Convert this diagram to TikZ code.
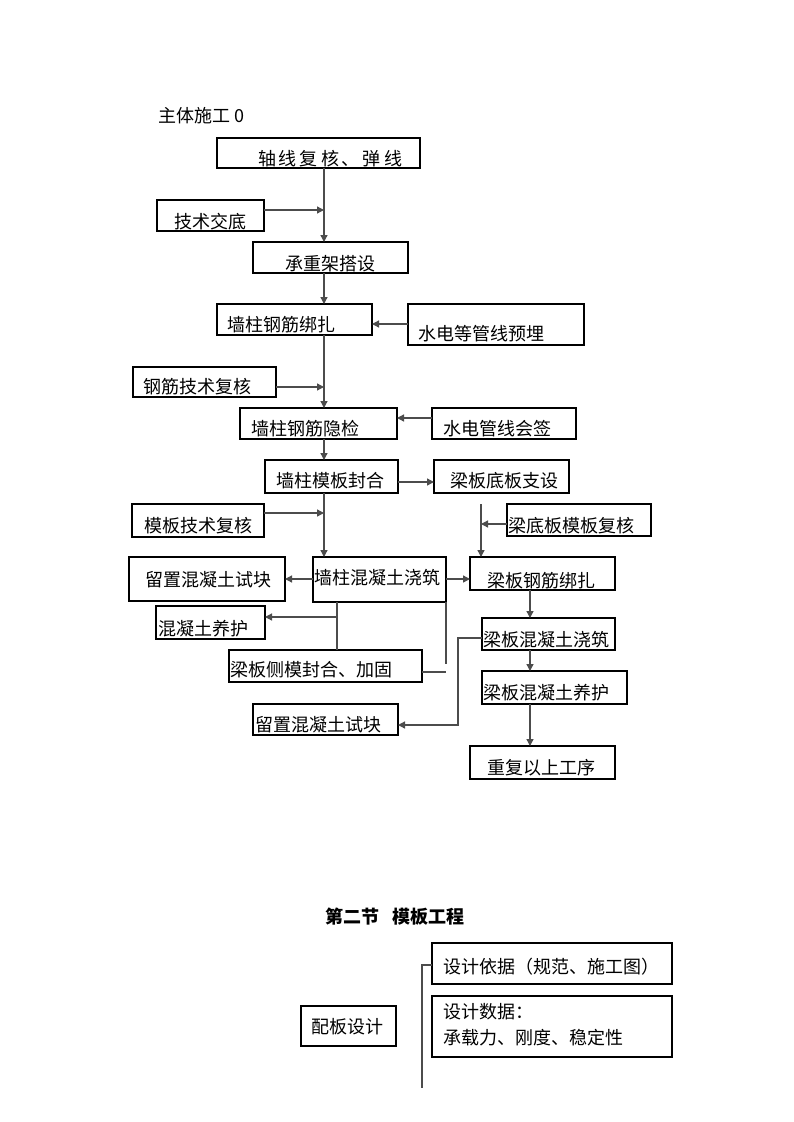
\documentclass[tikz,border=0pt]{standalone}
\usepackage{fontspec}
\setmainfont{Noto Sans CJK SC}
\usetikzlibrary{arrows.meta}
\tikzset{
  box/.style={draw=black, line width=1.1pt, inner sep=0pt, outer sep=0pt, rectangle},
  txt/.style={inner sep=0pt, outer sep=0pt, anchor=west, font=\fontsize{18pt}{20pt}\selectfont},
  conn/.style={draw=black!70, line width=1.3pt},
  arr/.style={conn, -{Triangle[length=7pt,width=7pt]}},
}
\newcommand\bx[8]{%
  \node[box, minimum width={(#4-#2)*1pt}, minimum height={(#5-#3)*1pt}] (#1) at ({(#2+#4)/2},{(#3+#5)/2}) {};
  \node[txt] (#1-t) at (#6,#7) {#8};
}
\begin{document}
\begin{tikzpicture}[x=1pt,y=-1pt]
\fill[white] (0,0) rectangle (793,1122);
\useasboundingbox (0,0) rectangle (793,1122);

\node[txt] (title) at (158,116) {主体施工 0};

\bx{b1}{217}{138}{420}{168}{258}{159}{轴\hspace{3pt}线\hspace{3pt}复\hspace{3pt}核\hspace{3pt}、\hspace{3pt}弹\hspace{3pt}线}
\bx{b2}{157}{200}{264}{231}{174}{222}{技术交底}
\bx{b3}{253}{242}{408}{273}{285}{264}{承重架搭设}
\bx{b4}{217}{304}{372}{335}{227}{325}{墙柱钢筋绑扎}
\bx{b5}{408}{304}{584}{345}{418}{334}{水电等管线预埋}
\bx{b6}{133}{367}{276}{397}{143}{387}{钢筋技术复核}
\bx{b7}{240}{408}{397}{439}{251}{429}{墙柱钢筋隐检}
\bx{b8}{432}{408}{576}{439}{443}{429}{水电管线会签}
\bx{b9}{265}{460}{398}{493}{276}{481}{墙柱模板封合}
\bx{b10}{434}{460}{569}{493}{450}{481}{梁板底板支设}
\bx{b11}{132}{504}{264}{537}{144}{526}{模板技术复核}
\bx{b12}{507}{504}{651}{536}{508}{526}{梁底板模板复核}
\bx{b13}{470}{557}{615}{590}{487}{581}{梁板钢筋绑扎}
\bx{b14}{313}{557}{446}{602}{314}{578}{墙柱混凝土浇筑}
\bx{b15}{129}{557}{285}{601}{145}{580}{留置混凝土试块}
\bx{b16}{156}{606}{265}{639}{158}{629}{混凝土养护}
\bx{b17}{229}{650}{422}{682}{230}{670}{梁板侧模封合、加固}
\bx{b18}{482}{618}{615}{650}{483}{640}{梁板混凝土浇筑}
\bx{b19}{482}{671}{627}{704}{483}{693}{梁板混凝土养护}
\bx{b20}{253}{704}{398}{735}{255}{725}{留置混凝土试块}
\bx{b21}{470}{746}{615}{779}{487}{768}{重复以上工序}

% connectors
\coordinate (t) at (324,0);
\coordinate (u) at (530,0);
\draw[arr] (b1.south -| t) -- (b3.north -| t);
\coordinate (j1) at (324,210);
\draw[arr] (b2.east |- j1) -- (j1);
\draw[arr] (b3.south -| t) -- (b4.north -| t);
\draw[arr] (b5.west |- 0,324) -- (b4.east |- 0,324);
\draw[arr] (b4.south -| t) -- (b7.north -| t);
\coordinate (j2) at (324,387);
\draw[arr] (b6.east |- j2) -- (j2);
\draw[arr] (b8.west |- 0,418) -- (b7.east |- 0,418);
\draw[arr] (b7.south -| t) -- (b9.north -| t);
\draw[arr] (b9.east |- 0,482) -- (b10.west |- 0,482);
\draw[arr] (b9.south -| t) -- (b14.north -| t);
\coordinate (j3) at (324,513);
\draw[arr] (b11.east |- j3) -- (j3);
\coordinate (j4) at (481,504);
\draw[arr] (j4) -- (b13.north -| j4);
\coordinate (j5) at (481,524);
\draw[arr] (b12.west |- j5) -- (j5);
\draw[arr] (b14.west |- 0,579) -- (b15.east |- 0,579);
\draw[arr] (b14.east |- 0,579) -- (b13.west |- 0,579);
\coordinate (j6) at (337,617);
\draw[conn] (b14.south -| j6) -- (b17.north -| j6);
\draw[arr] (j6) -- (b16.east |- j6);
\coordinate (j7) at (446,664);
\draw[conn] (b14.south east) -- (j7);
\coordinate (j8) at (446,672);
\draw[conn] (b17.east |- j8) -- (j8);
\draw[arr] (b13.south -| u) -- (b18.north -| u);
\draw[arr] (b18.south -| u) -- (b19.north -| u);
\draw[arr] (b19.south -| u) -- (b21.north -| u);
\coordinate (j9) at (458,638);
\draw[arr] (b18.west |- j9) -- (j9) |- (b20.east |- 0,725);

% section 2
\node[txt, font=\fontsize{18pt}{20pt}\selectfont\bfseries] (sec) at (325,917) {第二节\hspace{14pt}模板工程};
\bx{c1}{301}{1006}{396}{1046}{311}{1027}{配板设计}
\bx{c2}{432}{943}{672}{984}{443}{967}{设计依据（规范、施工图）}
\bx{c3}{432}{996}{672}{1057}{443}{1012}{设计数据：}
\node[txt] (c3b) at (443,1038) {承载力、刚度、稳定性};
\coordinate (k1) at (422,965);
\coordinate (k2) at (422,1088);
\draw[conn] (c2.west |- k1) -- (k1) -- (k2);
\end{tikzpicture}
\end{document}
